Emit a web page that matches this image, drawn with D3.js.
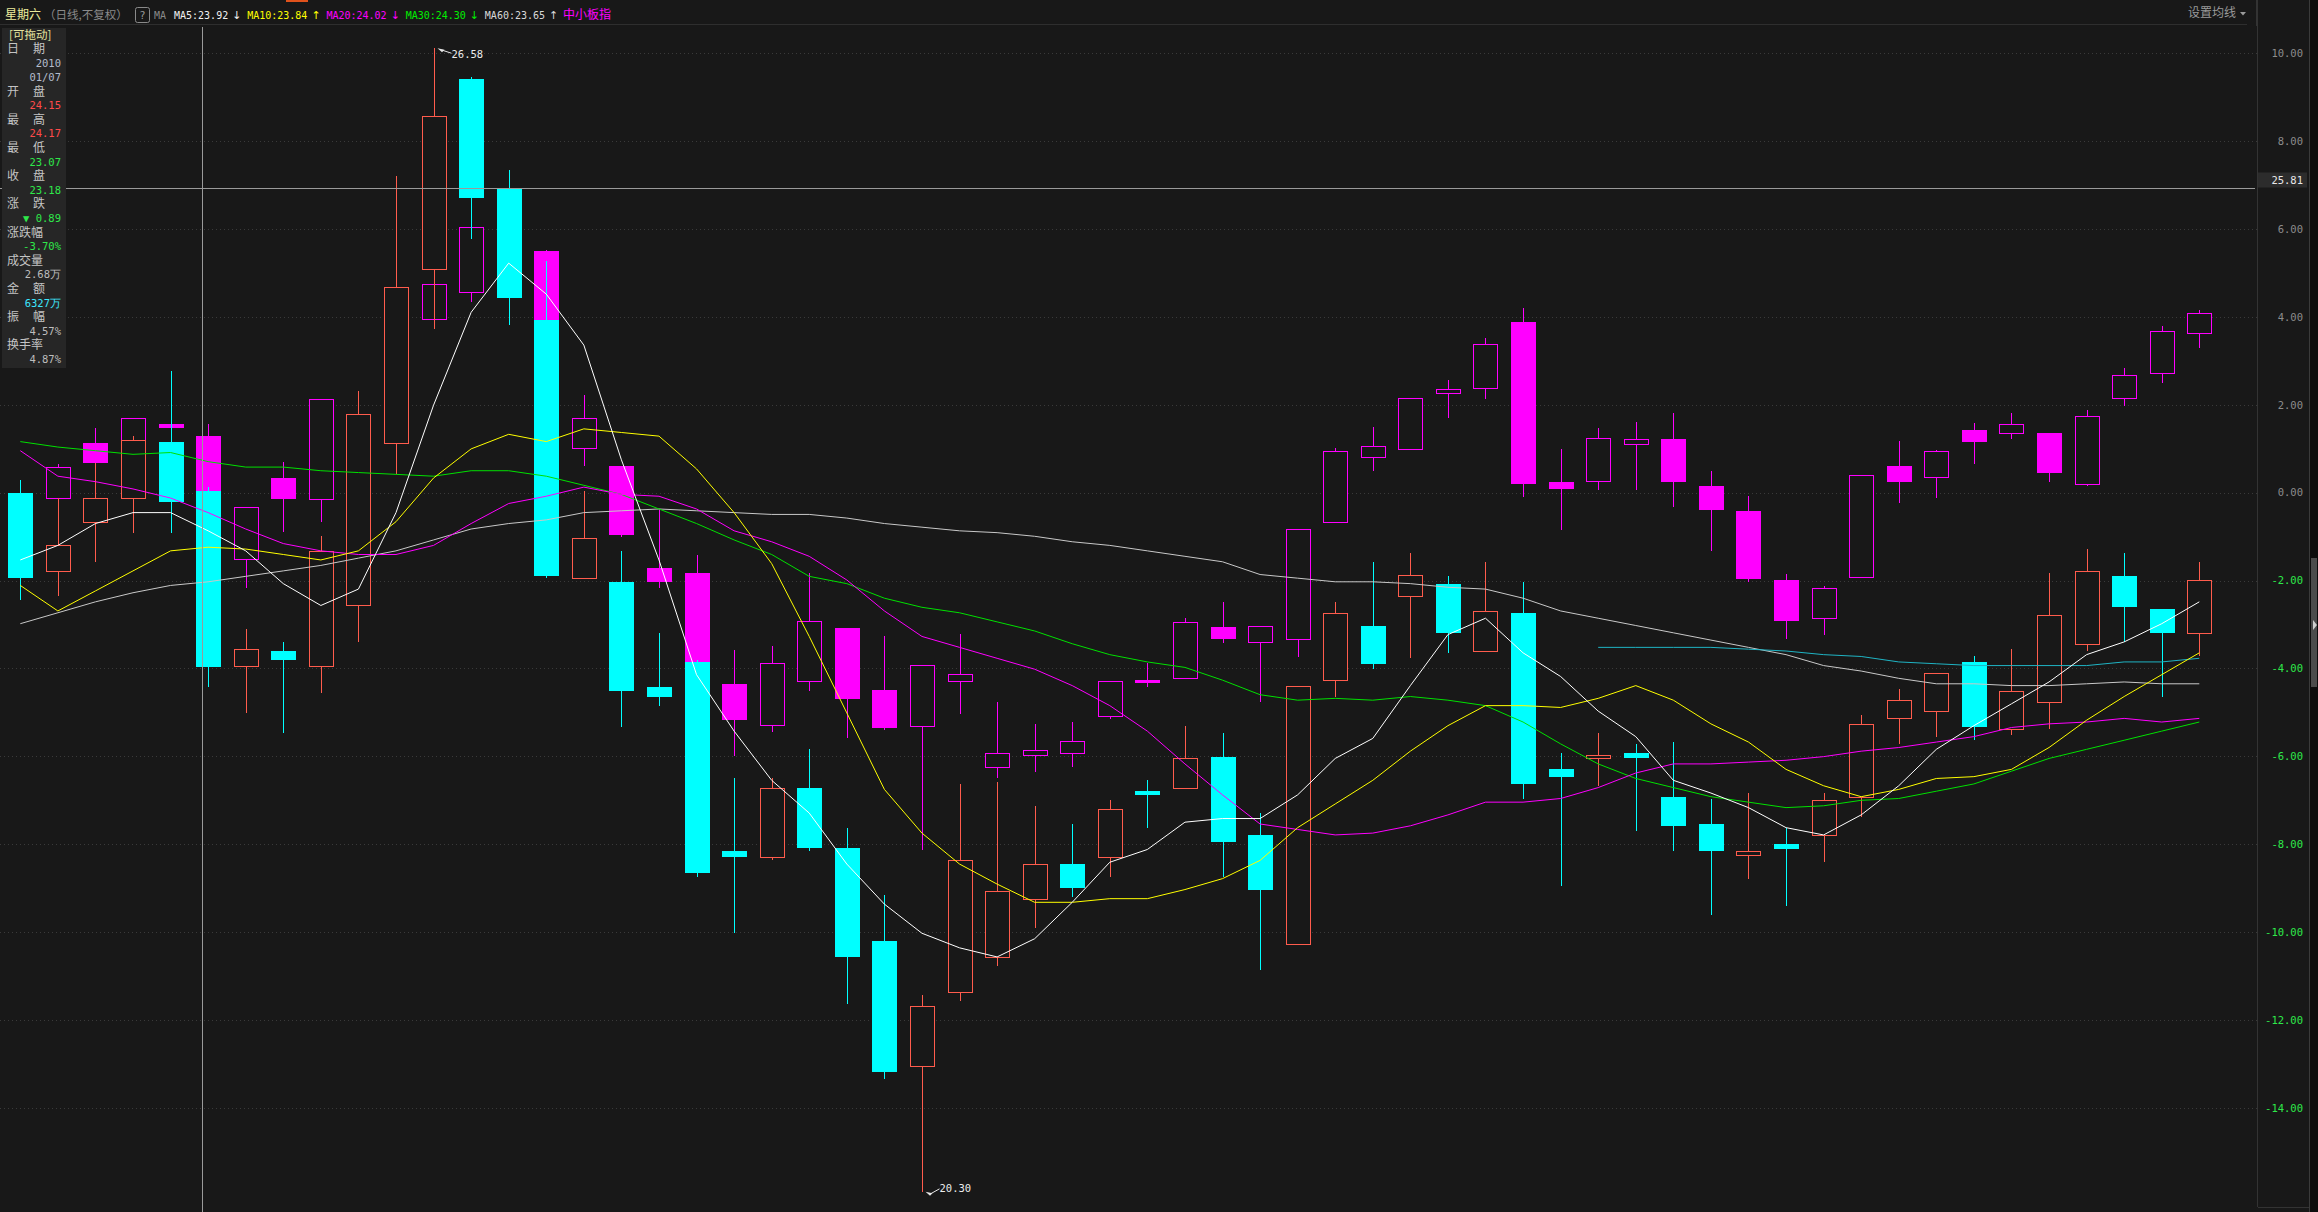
<!DOCTYPE html>
<html><head><meta charset="utf-8">
<script src="https://cdn.jsdelivr.net/npm/d3@7/dist/d3.min.js"></script>
<style>
html,body{margin:0;padding:0;background:#181818;overflow:hidden}
svg{display:block}
.mono{font-family:"DejaVu Sans Mono","Liberation Mono",monospace}
.cjk{font-family:"Noto Sans CJK SC","Noto Sans",sans-serif}
</style></head><body>
<svg id="c" width="2318" height="1212"></svg>
<script>
// ---------- DATA ----------
const stockName = "星期六";
const indexName = "中小板指";
const basePrice = 24.14;           // price at the 0.00% line
// main stock (price)
const stockOpen  = [24.14,23.71,23.98,24.11,24.42,24.15,23.19,23.27,23.19,23.52,24.41,25.37,26.41,25.81,25.09,23.67,23.65,23.07,23.21,22.17,22.14,22.52,22.19,21.68,20.99,21.40,21.59,21.91,22.10,22.14,22.50,22.52,22.69,22.26,21.66,23.11,23.41,23.57,23.64,23.27,23.48,22.62,22.68,22.71,22.47,22.32,22.15,22.21,22.26,22.47,22.90,22.94,23.21,22.84,22.99,23.31,23.68,23.50,23.37];
const stockHigh  = [24.21,24.11,24.30,24.45,24.81,24.17,23.39,23.32,23.90,24.70,25.88,26.58,26.42,25.91,25.41,24.15,23.82,23.37,23.22,22.57,22.57,22.73,22.30,21.93,21.38,22.54,22.55,22.42,22.32,22.45,22.56,22.86,22.82,22.38,23.08,23.54,23.76,23.81,23.68,23.76,23.65,22.71,22.82,22.76,22.77,22.46,22.49,22.30,22.49,22.92,23.06,23.15,23.24,23.28,23.70,23.83,23.81,23.50,23.76];
const stockLow   = [23.55,23.57,23.76,23.92,23.92,23.07,22.93,22.82,23.04,23.32,24.24,25.04,25.53,25.06,23.67,23.67,22.85,22.97,22.03,21.72,22.12,22.17,21.33,20.92,20.30,21.35,21.54,21.75,21.92,22.03,22.30,22.52,22.03,21.52,21.66,23.02,23.17,23.23,23.26,23.27,22.46,21.98,22.53,22.28,22.17,21.82,22.02,21.87,22.11,22.36,22.76,22.80,22.78,22.81,22.84,23.27,23.32,23.02,23.24];
const stockClose = [23.67,23.85,24.11,24.43,24.09,23.18,23.28,23.22,23.82,24.57,25.27,26.21,25.76,25.21,23.68,23.89,23.05,23.02,22.05,22.14,22.52,22.19,21.59,20.96,21.32,22.12,21.95,22.10,21.97,22.40,22.48,22.68,22.22,21.96,23.08,23.48,23.20,23.69,23.37,23.49,22.54,22.58,22.70,22.68,22.31,22.17,22.17,22.18,22.45,22.87,23.00,23.15,22.85,23.05,23.47,23.71,23.51,23.37,23.66];
// overlaid index (% change)
const indexOpen  = [-0.2,-0.12,1.12,0.9,1.55,1.28,-1.50,0.34,-0.14,1.6,1.5,3.95,4.57,6.1,5.49,1.01,0.60,-1.72,-1.82,-4.36,-5.28,-4.29,-3.07,-4.48,-5.30,-4.28,-6.25,-5.96,-5.93,-5.08,-4.26,-4.22,-3.05,-3.41,-3.32,-0.66,0.82,0.99,2.27,2.39,3.87,0.24,0.27,1.11,1.23,0.14,-0.43,-1.98,-2.85,-1.91,0.61,0.36,1.43,1.35,1.36,0.20,2.15,2.71,3.63];
const indexHigh  = [0.29,0.65,1.47,1.69,1.62,1.55,-0.32,0.70,2.13,2.1,3.9,4.8,6.1,6.6,5.52,2.23,0.60,-0.37,-1.41,-3.59,-3.49,-1.82,-3.07,-3.27,-3.92,-3.22,-4.77,-5.26,-5.23,-4.29,-3.87,-2.85,-2.50,-3.03,-0.82,1.01,1.50,2.16,2.57,3.51,4.19,0.99,1.47,1.60,1.82,0.48,-0.07,-1.86,-2.13,0.41,1.18,0.97,1.58,1.81,1.36,1.87,2.83,3.78,4.16];
const indexLow   = [-1.2,-0.2,0.6,0.7,1.40,-1.6,-2.16,-0.89,-0.66,0.3,1.3,3.9,4.34,4.8,1.2,0.60,-1.0,-2.16,-4.5,-6.0,-5.45,-4.51,-5.59,-5.40,-8.13,-5.03,-6.5,-6.35,-6.25,-5.14,-4.43,-4.22,-3.42,-4.77,-3.75,-0.66,0.48,0.99,1.69,2.13,-0.10,-0.85,0.07,0.07,-0.32,-1.33,-2.03,-3.34,-3.24,-1.91,-0.24,-0.12,0.66,1.21,0.24,0.15,1.96,2.50,3.29];
const indexClose = [-1.0,0.58,0.68,1.69,1.48,-1.2,-0.32,-0.14,2.13,0.5,3.6,4.74,6.05,5.4,1.5,1.70,-0.97,-2.03,-4.3,-5.18,-3.87,-2.91,-4.70,-5.35,-3.92,-4.12,-5.93,-5.86,-5.66,-4.29,-4.34,-2.95,-3.32,-3.03,-0.82,0.94,1.07,2.16,2.35,3.39,0.20,0.09,1.24,1.21,0.24,-0.39,-1.96,-2.91,-2.18,0.41,0.24,0.94,1.16,1.55,0.44,1.75,2.67,3.68,4.09];
// moving averages of the stock (price)
const ma5  = [23.77,23.85,23.97,24.03,24.03,23.93,23.82,23.64,23.52,23.61,24.03,24.62,25.13,25.40,25.23,24.95,24.32,23.77,23.14,22.83,22.56,22.38,22.10,21.88,21.72,21.64,21.59,21.69,21.89,22.11,22.18,22.33,22.35,22.35,22.48,22.68,22.79,23.08,23.36,23.45,23.26,23.13,22.94,22.80,22.56,22.49,22.41,22.30,22.26,22.37,22.53,22.73,22.86,22.98,23.10,23.25,23.32,23.42,23.54];
const ma10 = [23.63,23.49,23.60,23.71,23.82,23.84,23.83,23.80,23.77,23.82,23.98,24.22,24.38,24.46,24.42,24.49,24.47,24.45,24.27,24.03,23.75,23.35,22.93,22.51,22.27,22.10,21.99,21.89,21.89,21.91,21.91,21.96,22.02,22.12,22.30,22.43,22.56,22.72,22.86,22.97,22.97,22.96,23.01,23.08,23.00,22.87,22.77,22.62,22.53,22.47,22.51,22.57,22.58,22.62,22.74,22.89,23.02,23.14,23.26];
const ma20 = [24.37,24.23,24.20,24.16,24.11,24.03,23.94,23.86,23.82,23.80,23.80,23.85,23.97,24.08,24.12,24.17,24.13,24.12,24.05,23.93,23.87,23.79,23.66,23.49,23.35,23.29,23.23,23.17,23.08,22.97,22.83,22.65,22.48,22.32,22.29,22.26,22.27,22.31,22.37,22.44,22.44,22.46,22.52,22.60,22.65,22.65,22.66,22.67,22.69,22.72,22.74,22.77,22.80,22.85,22.87,22.88,22.90,22.88,22.90];
const ma30 = [24.42,24.39,24.37,24.35,24.36,24.31,24.28,24.28,24.26,24.25,24.24,24.23,24.26,24.26,24.23,24.18,24.13,24.05,23.97,23.88,23.80,23.68,23.64,23.56,23.51,23.48,23.43,23.38,23.31,23.25,23.21,23.18,23.11,23.03,23.00,23.01,23.00,23.02,23.00,22.97,22.88,22.76,22.65,22.57,22.52,22.47,22.44,22.41,22.42,22.45,22.46,22.50,22.54,22.61,22.68,22.73,22.78,22.83,22.88];
const ma60 = [23.42,23.48,23.54,23.59,23.63,23.65,23.68,23.71,23.74,23.78,23.82,23.88,23.94,23.97,23.99,24.03,24.04,24.05,24.04,24.03,24.02,24.02,24.00,23.97,23.95,23.93,23.92,23.90,23.87,23.85,23.82,23.79,23.76,23.69,23.67,23.65,23.65,23.64,23.62,23.61,23.56,23.49,23.45,23.41,23.37,23.33,23.29,23.25,23.19,23.16,23.12,23.09,23.09,23.08,23.08,23.09,23.10,23.09,23.09];
const maLong = [null,null,null,null,null,null,null,null,null,null,null,null,null,null,null,null,null,null,null,null,null,null,null,null,null,null,null,null,null,null,null,null,null,null,null,null,null,null,null,null,null,null,23.29,23.29,23.29,23.29,23.28,23.27,23.25,23.24,23.21,23.20,23.19,23.19,23.19,23.19,23.21,23.21,23.23];
const pctTicks = [10,8,6,4,2,0,-2,-4,-6,-8,-10,-12,-14];
const maLegend = [
  {label:"MA5:23.92", arrow:"↓", color:"#f0f0f0"},
  {label:"MA10:23.84", arrow:"↑", color:"#ffff00"},
  {label:"MA20:24.02", arrow:"↓", color:"#ff00ff"},
  {label:"MA30:24.30", arrow:"↓", color:"#00ee00"},
  {label:"MA60:23.65", arrow:"↑", color:"#d8d8d8"}
];
const infoRows = [
  ["[可拖动]","title"],["日 期","label"],["2010","date"],["01/07","date"],
  ["开 盘","label"],["24.15","up"],["最 高","label"],["24.17","up"],
  ["最 低","label"],["23.07","down"],["收 盘","label"],["23.18","down"],
  ["涨 跌","label"],["▼ 0.89","down"],["涨跌幅","label"],["-3.70%","down"],
  ["成交量","label"],["2.68万","plain"],["金 额","label"],["6327万","cyan"],
  ["振 幅","label"],["4.57%","plain"],["换手率","label"],["4.87%","plain"]
];
const crossPrice = 25.81;
const crossIndex = 5;

// ---------- CHART ----------
const W = 2318, H = 1212, BG = "#181818";
const svg = d3.select("#c");
svg.append("rect").attr("width", W).attr("height", H).attr("fill", BG);

const y = d3.scaleLinear().domain([10, -14]).range([53, 1108]);
const yP = p => y((p / basePrice - 1) * 100);
const x = d3.scaleLinear().domain([0, 58]).range([20.3, 2199.3]);
const n = stockOpen.length;
const plotRight = 2257;

// grid lines
const grid = svg.append("g");
pctTicks.forEach(t => {
  grid.append("line").attr("x1", 0).attr("x2", plotRight).attr("y1", Math.round(y(t)) + 0.5).attr("y2", Math.round(y(t)) + 0.5)
    .attr("stroke", "#3a3a3a").attr("stroke-dasharray", "1,3");
});

function candles(O, Hh, L, C, yf, upCol, downCol) {
  const g = svg.append("g").attr("shape-rendering", "crispEdges");
  for (let i = 0; i < n; i++) {
    const cx = Math.round(x(i));
    const up = C[i] >= O[i];
    const col = up ? upCol : downCol;
    g.append("line").attr("x1", cx + 0.5).attr("x2", cx + 0.5)
      .attr("y1", Math.round(yf(Hh[i]))).attr("y2", Math.round(yf(L[i])))
      .attr("stroke", col).attr("stroke-width", 1);
    const top = Math.round(yf(Math.max(O[i], C[i])));
    const bot = Math.round(yf(Math.min(O[i], C[i])));
    if (up) {
      g.append("rect").attr("x", cx - 11.5).attr("y", top + 0.5).attr("width", 24)
        .attr("height", Math.max(1, bot - top)).attr("fill", BG).attr("stroke", col).attr("stroke-width", 1);
    } else {
      g.append("rect").attr("x", cx - 12).attr("y", top).attr("width", 25)
        .attr("height", Math.max(2, bot - top)).attr("fill", col);
    }
  }
}
candles(indexOpen, indexHigh, indexLow, indexClose, y, "#ff00ff", "#ff00ff");
candles(stockOpen, stockHigh, stockLow, stockClose, yP, "#ff5c4d", "#00ffff");

// moving averages
const line = d3.line().defined(d => d != null).x((d, i) => x(i)).y(d => yP(d));
[[ma60, "#c8c8c8"], [maLong, "#1fb4c4"], [ma30, "#00e000"], [ma20, "#ff00ff"], [ma10, "#ffff00"], [ma5, "#ffffff"]].forEach(([arr, col]) => {
  svg.append("path").datum(arr).attr("d", line).attr("fill", "none").attr("stroke", col).attr("stroke-width", 1);
});

// extreme labels
function extreme(i, val, isHigh) {
  const cx = Math.round(x(i)) + 0.5, yy = yP(val);
  const g = svg.append("g");
  const tx = cx + 3, ty = yy;
  g.append("path").attr("d", `M${tx},${ty} l7,1.5 l-2.5,2.5 z`).attr("fill", "#e8e8e8");
  g.append("line").attr("x1", tx + 5).attr("y1", ty + 2).attr("x2", tx + 14).attr("y2", ty + (isHigh ? 5 : -3)).attr("stroke", "#e8e8e8");
  g.append("text").attr("class", "mono").attr("x", cx + 17).attr("y", ty + (isHigh ? 6 : -4)).attr("dy", "0.35em")
    .attr("font-size", 10.5).attr("fill", "#ececec").text(val.toFixed(2));
}
const hiIdx = d3.maxIndex(stockHigh), loIdx = d3.minIndex(stockLow);
extreme(hiIdx, stockHigh[hiIdx], true);
extreme(loIdx, stockLow[loIdx], false);

// crosshair
const cy = Math.round(yP(crossPrice)) + 0.5;
svg.append("line").attr("x1", 0).attr("x2", 2255).attr("y1", cy).attr("y2", cy).attr("stroke", "#9a9a9a");
const vx = Math.round(x(crossIndex)) - 5.5;
svg.append("line").attr("x1", vx).attr("x2", vx).attr("y1", 27).attr("y2", H).attr("stroke", "#9a9a9a");

// right axis
svg.append("line").attr("x1", plotRight + 0.5).attr("x2", plotRight + 0.5).attr("y1", 0).attr("y2", 1207).attr("stroke", "#333");
const ax = svg.append("g").attr("transform", "translate(2306,0)")
  .call(d3.axisLeft(y).tickValues(pctTicks).tickSize(0).tickPadding(3).tickFormat(d => d.toFixed(2)));
ax.select(".domain").remove();
ax.selectAll("text").attr("class", "mono").attr("font-size", 10.5)
  .attr("fill", d => d < 0 ? "#2ee84a" : "#8c8c8c");
svg.append("rect").attr("x", 2258).attr("y", cy - 16).attr("width", 49).attr("height", 15).attr("fill", "#2c2c2c");
svg.append("text").attr("class", "mono").attr("x", 2303).attr("y", cy - 8.5).attr("dy", "0.35em").attr("text-anchor", "end")
  .attr("font-size", 10.5).attr("fill", "#e8e8e8").text(crossPrice.toFixed(2));
// right strip / scrollbar
svg.append("rect").attr("x", 2309).attr("y", 0).attr("width", 9).attr("height", H).attr("fill", "#0d0d0d");
svg.append("line").attr("x1", 2309.5).attr("x2", 2309.5).attr("y1", 0).attr("y2", H).attr("stroke", "#3a3a3a");
svg.append("rect").attr("x", 2311).attr("y", 558).attr("width", 6).attr("height", 129).attr("fill", "#4c4c4c");
svg.append("path").attr("d", "M2313,620 l4,5 l-4,5 z").attr("fill", "#cfcfcf");
svg.append("line").attr("x1", 2258).attr("x2", 2309).attr("y1", 1207.5).attr("y2", 1207.5).attr("stroke", "#333");

// header
svg.append("line").attr("x1", 0).attr("x2", 2247).attr("y1", 24.5).attr("y2", 24.5).attr("stroke", "#2e2e2e");
svg.append("rect").attr("x", 286).attr("y", 0).attr("width", 22).attr("height", 2).attr("fill", "#e0521c");
svg.append("text").attr("class", "cjk").attr("x", 5).attr("y", 15).attr("dy", "0.35em").attr("font-size", 12).attr("fill", "#ecec9c").text(stockName);
svg.append("text").attr("class", "cjk").attr("x", 44).attr("y", 15).attr("dy", "0.35em").attr("font-size", 11.5).attr("fill", "#8a8a8a").text("（日线,不复权）");
svg.append("rect").attr("x", 135.5).attr("y", 7.5).attr("width", 14).attr("height", 15).attr("rx", 2).attr("fill", "none").attr("stroke", "#8a8a8a");
svg.append("text").attr("class", "mono").attr("x", 142.5).attr("y", 15).attr("dy", "0.35em").attr("text-anchor", "middle").attr("font-size", 10.5).attr("fill", "#9a9a9a").text("?");
svg.append("text").attr("class", "mono").attr("x", 154).attr("y", 15).attr("dy", "0.35em").attr("font-size", 10).attr("fill", "#8a8a8a").text("MA");
let hx = 174;
maLegend.forEach(m => {
  const t = svg.append("text").attr("class", "mono").attr("x", hx).attr("y", 15).attr("dy", "0.35em").attr("font-size", 10).attr("fill", m.color).text(m.label);
  const w = t.node().getComputedTextLength();
  svg.append("text").attr("x", hx + w + 4).attr("y", 15).attr("dy", "0.35em").attr("font-family", "DejaVu Sans").attr("font-size", 11).attr("fill", m.color).text(m.arrow);
  hx += w + 19;
});
svg.append("text").attr("class", "cjk").attr("x", 563).attr("y", 15).attr("dy", "0.35em").attr("font-size", 12).attr("fill", "#ff00ff").text(indexName);
svg.append("text").attr("class", "cjk").attr("x", 2188).attr("y", 13).attr("dy", "0.35em").attr("font-size", 12).attr("fill", "#9a9a9a").text("设置均线");
svg.append("path").attr("d", "M2240,12 l6,0 l-3,3.5 z").attr("fill", "#9a9a9a");
svg.append("line").attr("x1", 2256.5).attr("x2", 2256.5).attr("y1", 0).attr("y2", 26).attr("stroke", "#333");

// info panel
svg.append("rect").attr("x", 2).attr("y", 28).attr("width", 64).attr("height", 340).attr("fill", "#262626");
const colors = {title:"#e6e6a0", label:"#c4c4c4", date:"#b4bccc", up:"#ff4a4a", down:"#2ee84a", plain:"#bdbdbd", cyan:"#3ce6ff"};
infoRows.forEach(([t, k], j) => {
  const yy = 35 + j * 14.1;
  if (k === "title") {
    svg.append("text").attr("class", "cjk").attr("x", 9).attr("y", yy).attr("dy", "0.35em").attr("font-size", 11.5).attr("fill", colors[k]).text(t);
  } else if (k === "label") {
    const parts = t.split(" ");
    if (parts.length === 2) {
      svg.append("text").attr("class", "cjk").attr("x", 7).attr("y", yy).attr("dy", "0.35em").attr("font-size", 12).attr("fill", colors[k]).text(parts[0]);
      svg.append("text").attr("class", "cjk").attr("x", 33).attr("y", yy).attr("dy", "0.35em").attr("font-size", 12).attr("fill", colors[k]).text(parts[1]);
    } else {
      svg.append("text").attr("class", "cjk").attr("x", 7).attr("y", yy).attr("dy", "0.35em").attr("font-size", 12).attr("fill", colors[k]).text(t);
    }
  } else {
    svg.append("text").attr("class", "mono").attr("x", 61).attr("y", yy).attr("dy", "0.35em").attr("text-anchor", "end")
      .attr("font-size", 10.5).attr("fill", colors[k]).text(t);
  }
});
</script>
</body></html>
